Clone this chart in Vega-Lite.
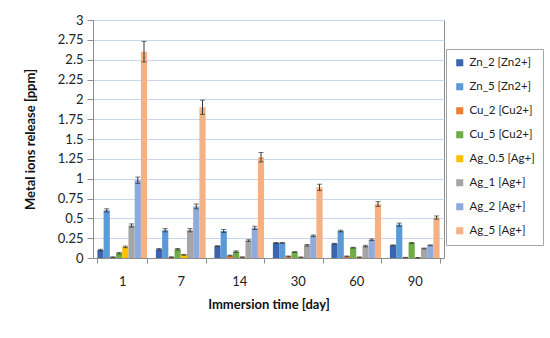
{
  "$schema": "https://vega.github.io/schema/vega-lite/v6.json",
  "width": 351,
  "height": 238,
  "autosize": {"type": "none"},
  "padding": {"left": 93, "top": 20, "right": 106, "bottom": 80},
  "background": "white",
  "data": {"values": [
    {"day": "1", "series": "Zn_2 [Zn2+]", "value": 0.10, "lo": 0.09, "hi": 0.11},
    {"day": "1", "series": "Zn_5 [Zn2+]", "value": 0.60, "lo": 0.58, "hi": 0.62},
    {"day": "1", "series": "Cu_2 [Cu2+]", "value": 0.01, "lo": 0.005, "hi": 0.015},
    {"day": "1", "series": "Cu_5 [Cu2+]", "value": 0.06, "lo": 0.05, "hi": 0.07},
    {"day": "1", "series": "Ag_0.5 [Ag+]", "value": 0.14, "lo": 0.13, "hi": 0.15},
    {"day": "1", "series": "Ag_1 [Ag+]", "value": 0.41, "lo": 0.39, "hi": 0.43},
    {"day": "1", "series": "Ag_2 [Ag+]", "value": 0.98, "lo": 0.94, "hi": 1.02},
    {"day": "1", "series": "Ag_5 [Ag+]", "value": 2.60, "lo": 2.47, "hi": 2.73},
    {"day": "7", "series": "Zn_2 [Zn2+]", "value": 0.11, "lo": 0.10, "hi": 0.12},
    {"day": "7", "series": "Zn_5 [Zn2+]", "value": 0.35, "lo": 0.33, "hi": 0.37},
    {"day": "7", "series": "Cu_2 [Cu2+]", "value": 0.01, "lo": 0.005, "hi": 0.015},
    {"day": "7", "series": "Cu_5 [Cu2+]", "value": 0.11, "lo": 0.10, "hi": 0.12},
    {"day": "7", "series": "Ag_0.5 [Ag+]", "value": 0.04, "lo": 0.035, "hi": 0.045},
    {"day": "7", "series": "Ag_1 [Ag+]", "value": 0.35, "lo": 0.33, "hi": 0.37},
    {"day": "7", "series": "Ag_2 [Ag+]", "value": 0.65, "lo": 0.62, "hi": 0.68},
    {"day": "7", "series": "Ag_5 [Ag+]", "value": 1.90, "lo": 1.81, "hi": 1.99},
    {"day": "14", "series": "Zn_2 [Zn2+]", "value": 0.15, "lo": 0.145, "hi": 0.155},
    {"day": "14", "series": "Zn_5 [Zn2+]", "value": 0.34, "lo": 0.32, "hi": 0.36},
    {"day": "14", "series": "Cu_2 [Cu2+]", "value": 0.03, "lo": 0.025, "hi": 0.035},
    {"day": "14", "series": "Cu_5 [Cu2+]", "value": 0.08, "lo": 0.07, "hi": 0.09},
    {"day": "14", "series": "Ag_0.5 [Ag+]", "value": 0.01, "lo": 0.005, "hi": 0.015},
    {"day": "14", "series": "Ag_1 [Ag+]", "value": 0.22, "lo": 0.21, "hi": 0.23},
    {"day": "14", "series": "Ag_2 [Ag+]", "value": 0.38, "lo": 0.36, "hi": 0.40},
    {"day": "14", "series": "Ag_5 [Ag+]", "value": 1.27, "lo": 1.21, "hi": 1.33},
    {"day": "30", "series": "Zn_2 [Zn2+]", "value": 0.19, "lo": 0.185, "hi": 0.195},
    {"day": "30", "series": "Zn_5 [Zn2+]", "value": 0.19, "lo": 0.185, "hi": 0.195},
    {"day": "30", "series": "Cu_2 [Cu2+]", "value": 0.02, "lo": 0.015, "hi": 0.025},
    {"day": "30", "series": "Cu_5 [Cu2+]", "value": 0.075, "lo": 0.07, "hi": 0.08},
    {"day": "30", "series": "Ag_0.5 [Ag+]", "value": 0.01, "lo": 0.007, "hi": 0.013},
    {"day": "30", "series": "Ag_1 [Ag+]", "value": 0.16, "lo": 0.15, "hi": 0.17},
    {"day": "30", "series": "Ag_2 [Ag+]", "value": 0.28, "lo": 0.27, "hi": 0.29},
    {"day": "30", "series": "Ag_5 [Ag+]", "value": 0.89, "lo": 0.85, "hi": 0.93},
    {"day": "60", "series": "Zn_2 [Zn2+]", "value": 0.18, "lo": 0.175, "hi": 0.185},
    {"day": "60", "series": "Zn_5 [Zn2+]", "value": 0.34, "lo": 0.33, "hi": 0.35},
    {"day": "60", "series": "Cu_2 [Cu2+]", "value": 0.02, "lo": 0.015, "hi": 0.025},
    {"day": "60", "series": "Cu_5 [Cu2+]", "value": 0.13, "lo": 0.125, "hi": 0.135},
    {"day": "60", "series": "Ag_0.5 [Ag+]", "value": 0.01, "lo": 0.007, "hi": 0.013},
    {"day": "60", "series": "Ag_1 [Ag+]", "value": 0.15, "lo": 0.14, "hi": 0.16},
    {"day": "60", "series": "Ag_2 [Ag+]", "value": 0.23, "lo": 0.22, "hi": 0.24},
    {"day": "60", "series": "Ag_5 [Ag+]", "value": 0.68, "lo": 0.65, "hi": 0.71},
    {"day": "90", "series": "Zn_2 [Zn2+]", "value": 0.16, "lo": 0.155, "hi": 0.165},
    {"day": "90", "series": "Zn_5 [Zn2+]", "value": 0.42, "lo": 0.40, "hi": 0.44},
    {"day": "90", "series": "Cu_2 [Cu2+]", "value": 0.005, "lo": 0.002, "hi": 0.008},
    {"day": "90", "series": "Cu_5 [Cu2+]", "value": 0.19, "lo": 0.185, "hi": 0.195},
    {"day": "90", "series": "Ag_0.5 [Ag+]", "value": 0.003, "lo": 0.0, "hi": 0.006},
    {"day": "90", "series": "Ag_1 [Ag+]", "value": 0.12, "lo": 0.115, "hi": 0.125},
    {"day": "90", "series": "Ag_2 [Ag+]", "value": 0.16, "lo": 0.155, "hi": 0.165},
    {"day": "90", "series": "Ag_5 [Ag+]", "value": 0.51, "lo": 0.49, "hi": 0.53}
  ]},
  "encoding": {
    "x": {
      "field": "day", "type": "ordinal", "sort": ["1", "7", "14", "30", "60", "90"],
      "scale": {"paddingInner": 0.15, "paddingOuter": 0.075},
      "axis": {"title": "Immersion time [day]", "labelAngle": 0, "tickBand": "extent",
               "tickSize": 5, "labelPadding": 12, "titlePadding": 10,
               "domainColor": "#8c8c8c", "tickColor": "#8c8c8c", "grid": false}
    },
    "xOffset": {
      "field": "series", "type": "nominal",
      "sort": ["Zn_2 [Zn2+]", "Zn_5 [Zn2+]", "Cu_2 [Cu2+]", "Cu_5 [Cu2+]", "Ag_0.5 [Ag+]", "Ag_1 [Ag+]", "Ag_2 [Ag+]", "Ag_5 [Ag+]"],
      "scale": {"paddingInner": 0, "paddingOuter": 0}
    }
  },
  "layer": [
    {
      "mark": {"type": "bar"},
      "encoding": {
        "y": {
          "field": "value", "type": "quantitative",
          "scale": {"domain": [0, 3], "nice": false},
          "axis": {"title": "Metal ions release [ppm]", "values": [0, 0.25, 0.5, 0.75, 1, 1.25, 1.5, 1.75, 2, 2.25, 2.5, 2.75, 3],
                   "labelExpr": "'' + datum.value", "tickSize": 6, "labelPadding": 4, "titleX": -56,
                   "domainColor": "#8c8c8c", "tickColor": "#8c8c8c", "gridColor": "#C9D6EE"}
        },
        "color": {
          "field": "series", "type": "nominal",
          "sort": ["Zn_2 [Zn2+]", "Zn_5 [Zn2+]", "Cu_2 [Cu2+]", "Cu_5 [Cu2+]", "Ag_0.5 [Ag+]", "Ag_1 [Ag+]", "Ag_2 [Ag+]", "Ag_5 [Ag+]"],
          "scale": {"range": ["#3B65AF", "#5B9BD5", "#ED7D31", "#70AD47", "#FFC000", "#A5A5A5", "#8FAADC", "#F4B183"]},
          "legend": {"title": null, "orient": "none", "legendX": 353, "legendY": 29,
                     "symbolType": "square", "symbolSize": 50, "symbolStrokeWidth": 0,
                     "labelFontSize": 11.5, "rowPadding": 11, "padding": 8,
                     "strokeColor": "#a6a6a6", "labelColor": "#222", "labelOffset": 4}
        }
      }
    },
    {
      "mark": {"type": "rule", "color": "#333", "strokeWidth": 1},
      "encoding": {
        "y": {"field": "lo", "type": "quantitative",
              "axis": {"title": "Metal ions release [ppm]", "values": [0, 0.25, 0.5, 0.75, 1, 1.25, 1.5, 1.75, 2, 2.25, 2.5, 2.75, 3],
                   "labelExpr": "'' + datum.value", "tickSize": 6, "labelPadding": 4, "titleX": -56,
                   "domainColor": "#8c8c8c", "tickColor": "#8c8c8c", "gridColor": "#C9D6EE"}},
        "y2": {"field": "hi"}
      }
    },
    {
      "mark": {"type": "tick", "color": "#333", "size": 5, "thickness": 1, "orient": "horizontal"},
      "encoding": {"y": {"field": "lo", "type": "quantitative",
              "axis": {"title": "Metal ions release [ppm]", "values": [0, 0.25, 0.5, 0.75, 1, 1.25, 1.5, 1.75, 2, 2.25, 2.5, 2.75, 3],
                   "labelExpr": "'' + datum.value", "tickSize": 6, "labelPadding": 4, "titleX": -56,
                   "domainColor": "#8c8c8c", "tickColor": "#8c8c8c", "gridColor": "#C9D6EE"}}}
    },
    {
      "mark": {"type": "tick", "color": "#333", "size": 5, "thickness": 1, "orient": "horizontal"},
      "encoding": {"y": {"field": "hi", "type": "quantitative",
              "axis": {"title": "Metal ions release [ppm]", "values": [0, 0.25, 0.5, 0.75, 1, 1.25, 1.5, 1.75, 2, 2.25, 2.5, 2.75, 3],
                   "labelExpr": "'' + datum.value", "tickSize": 6, "labelPadding": 4, "titleX": -56,
                   "domainColor": "#8c8c8c", "tickColor": "#8c8c8c", "gridColor": "#C9D6EE"}}}
    }
  ],
  "config": {
    "font": "Lato",
    "view": {"stroke": "#8c8c8c", "strokeWidth": 1},
    "axis": {"labelFontSize": 13, "labelColor": "#222", "titleFontSize": 13, "titleFontWeight": "bold", "titleColor": "#111", "labelFont": "Lato", "titleFont": "Lato"},
    "legend": {"labelFont": "Lato"}
  }
}
